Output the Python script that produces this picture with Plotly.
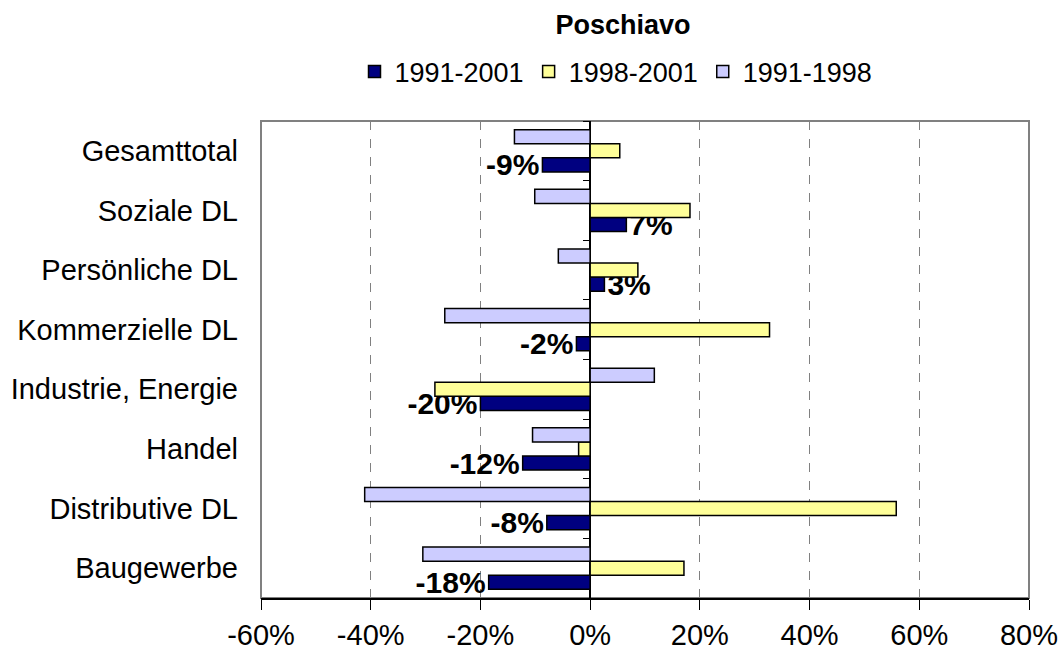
import plotly.graph_objects as go

# Data (categories listed bottom-to-top)
categories = ["Baugewerbe", "Distributive DL", "Handel", "Industrie, Energie",
              "Kommerzielle DL", "Persönliche DL", "Soziale DL", "Gesamttotal"]
series_names = ["1991-2001", "1998-2001", "1991-1998"]
v_1991_2001 = [-18.5, -7.9, -12.3, -20.0, -2.5, 2.6, 6.6, -8.7]
v_1998_2001 = [17.1, 55.8, -2.1, -28.3, 32.7, 8.7, 18.2, 5.4]
v_1991_1998 = [-30.5, -41.1, -10.5, 11.7, -26.5, -5.8, -10.1, -13.8]
labels_1991_2001 = ["-18%", "-8%", "-12%", "-20%", "-2%", "3%", "7%", "-9%"]
x_ticks = [-60, -40, -20, 0, 20, 40, 60, 80]
x_min, x_max = -60, 80

colors = ["#000080", "#FFFF99", "#CCCCFF"]
FONT = "Liberation Sans, Arial, sans-serif"
FS = 29

fig = go.Figure()
fig.add_trace(go.Bar(
    y=categories, x=v_1991_2001, name=series_names[0], orientation="h",
    marker=dict(color=colors[0], line=dict(color="black", width=1.5)),
    text=labels_1991_2001, textposition="outside", cliponaxis=False,
    constraintext="none",
    textfont=dict(family=FONT, size=30, color="black", weight="bold"),
))
fig.add_trace(go.Bar(
    y=categories, x=v_1998_2001, name=series_names[1], orientation="h",
    marker=dict(color=colors[1], line=dict(color="black", width=1.5)),
))
fig.add_trace(go.Bar(
    y=categories, x=v_1991_1998, name=series_names[2], orientation="h",
    marker=dict(color=colors[2], line=dict(color="black", width=1.5)),
))
# invisible helper trace so the category axis crossing at 0% shows its tick marks
fig.add_trace(go.Scatter(
    y=categories, x=[None] * len(categories), yaxis="y2", mode="none",
    showlegend=False, hoverinfo="skip",
))

fig.update_layout(
    width=1060, height=654,
    margin=dict(l=261, r=31, t=121, b=56),
    paper_bgcolor="white", plot_bgcolor="white",
    barmode="group", bargap=0.29, bargroupgap=0,
    font=dict(family=FONT, size=FS, color="black"),
    title=dict(text="<b>Poschiavo</b>", x=623 / 1060, xanchor="center",
               xref="container", yref="container", y=1 - 25 / 654,
               yanchor="middle", font=dict(size=27, family=FONT)),
    legend=dict(orientation="h", xref="container", yref="container",
                x=616 / 1060, xanchor="center", y=1 - 72 / 654, yanchor="middle",
                font=dict(size=27, family=FONT), traceorder="normal",
                itemwidth=30),
    showlegend=True,
    xaxis=dict(range=[x_min, x_max], tickvals=x_ticks,
               ticktext=[f"{t}%" for t in x_ticks], automargin=False,
               showgrid=True, gridcolor="#808080", griddash="dash", gridwidth=1,
               zeroline=True, zerolinecolor="black", zerolinewidth=1.5,
               showline=True, linecolor="black", linewidth=1.5,
               ticks="outside", ticklen=10, tickcolor="black",
               tickfont=dict(size=FS), fixedrange=True),
    yaxis=dict(categoryorder="array", categoryarray=categories, automargin=False,
               showgrid=False, zeroline=False, showline=False,
               ticks="", ticklabelstandoff=22, tickfont=dict(size=FS)),
    yaxis2=dict(matches="y", overlaying="y", anchor="free",
                position=(0 - x_min) / (x_max - x_min), side="left",
                categoryorder="array", categoryarray=categories,
                ticks="outside", tickson="boundaries", ticklen=7,
                tickcolor="black", tickwidth=1, showticklabels=False,
                showline=False, showgrid=False, zeroline=False, automargin=False),
    shapes=[dict(type="rect", xref="paper", yref="paper", x0=0, x1=1, y0=0, y1=1,
                 line=dict(color="#808080", width=2), layer="below")],
)

fig.write_html(
    "out.html",
    config={"displayModeBar": False},
    post_script="document.body.style.margin='0';document.body.style.overflow='hidden';",
)
